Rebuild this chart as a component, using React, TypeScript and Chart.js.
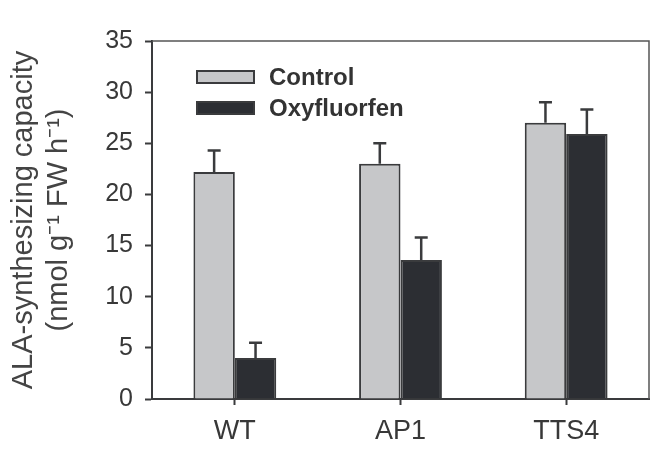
import React, { useEffect, useRef } from "react";
import { Chart, registerables } from "chart.js";

Chart.register(...registerables);

const categories = ["WT", "AP1", "TTS4"];
const controlValues = [22.2, 23.0, 27.0];
const controlErrors = [2.1, 2.0, 2.0];
const oxyfluorfenValues = [4.0, 13.6, 25.9];
const oxyfluorfenErrors = [1.5, 2.2, 2.4];
const seriesLabels = ["Control", "Oxyfluorfen"];
const yTitleLines = ["ALA-synthesizing capacity", "(nmol g\u207B\u00B9 FW h\u207B\u00B9)"];

const FONT = "'Liberation Sans', Arial, Helvetica, sans-serif";
const INK = "#3a3b3d";
const errorSets = [controlErrors, oxyfluorfenErrors];

// Upward-only error bars with a short cap
const errorBarPlugin = {
  id: "errorBars",
  afterDatasetsDraw(chart: any) {
    const { ctx } = chart;
    const y = chart.scales.y;
    ctx.save();
    ctx.strokeStyle = INK;
    ctx.lineWidth = 2.5;
    chart.data.datasets.forEach((ds: any, di: number) => {
      const meta = chart.getDatasetMeta(di);
      meta.data.forEach((bar: any, i: number) => {
        const v = ds.data[i];
        const top = y.getPixelForValue(v + errorSets[di][i]);
        ctx.beginPath();
        ctx.moveTo(bar.x, bar.y);
        ctx.lineTo(bar.x, top);
        ctx.moveTo(bar.x - 6.5, top);
        ctx.lineTo(bar.x + 6.5, top);
        ctx.stroke();
      });
    });
    ctx.restore();
  },
};

// Top and right edges of the plot frame
const framePlugin = {
  id: "frame",
  afterDraw(chart: any) {
    const { ctx, chartArea } = chart;
    ctx.save();
    ctx.strokeStyle = "#555";
    ctx.lineWidth = 1.5;
    ctx.beginPath();
    ctx.moveTo(chartArea.left, chartArea.top);
    ctx.lineTo(chartArea.right, chartArea.top);
    ctx.lineTo(chartArea.right, chartArea.bottom);
    ctx.stroke();
    ctx.restore();
  },
};

// Legend drawn inside the plot area, upper left
const insideLegendPlugin = {
  id: "insideLegend",
  afterDraw(chart: any) {
    const { ctx, chartArea } = chart;
    const boxX = chartArea.left + 45;
    const boxW = 57;
    const boxH = 12;
    const rowY = [chartArea.top + 36, chartArea.top + 67];
    ctx.save();
    ctx.font = `bold 24px ${FONT}`;
    ctx.textBaseline = "middle";
    ctx.textAlign = "left";
    chart.data.datasets.forEach((ds: any, i: number) => {
      const cy = rowY[i];
      ctx.fillStyle = ds.backgroundColor;
      ctx.fillRect(boxX, cy - boxH / 2, boxW, boxH);
      ctx.strokeStyle = INK;
      ctx.lineWidth = 2;
      ctx.strokeRect(boxX, cy - boxH / 2, boxW, boxH);
      ctx.fillStyle = "#333";
      ctx.fillText(ds.label, boxX + boxW + 15, cy + 1);
    });
    ctx.restore();
  },
};

export default function App() {
  const canvasRef = useRef<HTMLCanvasElement | null>(null);

  useEffect(() => {
    if (!canvasRef.current) return;
    const chart = new Chart(canvasRef.current, {
      type: "bar",
      data: {
        labels: categories,
        datasets: [
          {
            label: seriesLabels[0],
            data: controlValues,
            backgroundColor: "#c6c7c9",
            borderColor: INK,
            borderWidth: 2,
            borderSkipped: "bottom",
          },
          {
            label: seriesLabels[1],
            data: oxyfluorfenValues,
            backgroundColor: "#2c2e33",
            borderColor: INK,
            borderWidth: 2,
            borderSkipped: "bottom",
          },
        ],
      },
      options: {
        responsive: false,
        animation: false,
        devicePixelRatio: 1,
        layout: { padding: { left: 0, top: 41, right: 4, bottom: 0 } },
        datasets: {
          bar: { categoryPercentage: 0.5, barPercentage: 1.0 },
        },
        plugins: {
          legend: { display: false },
          tooltip: { enabled: false },
        },
        scales: {
          x: {
            grid: {
              offset: false,
              drawOnChartArea: false,
              drawTicks: true,
              tickLength: 6,
              tickWidth: 2,
              tickColor: INK,
            },
            border: { display: true, color: INK, width: 2 },
            ticks: {
              color: "#383838",
              padding: 10,
              font: { family: FONT, size: 27 },
            },
            afterFit(scale: any) {
              scale.height = 54;
            },
          },
          y: {
            min: 0,
            max: 35,
            grid: {
              drawOnChartArea: false,
              drawTicks: true,
              tickLength: 7,
              tickWidth: 2,
              tickColor: INK,
            },
            border: { display: true, color: INK, width: 2 },
            ticks: {
              stepSize: 5,
              color: "#383838",
              padding: 12,
              font: { family: FONT, size: 25 },
            },
            title: {
              display: true,
              text: yTitleLines,
              color: "#444",
              padding: { top: 6.5, bottom: 0 },
              font: { family: FONT, size: 29, lineHeight: 1.21 },
            },
            afterFit(scale: any) {
              scale.width = 152;
            },
          },
        },
      },
      plugins: [errorBarPlugin, framePlugin, insideLegendPlugin],
    });
    return () => chart.destroy();
  }, []);

  return (
    <div style={{ position: "fixed", left: 0, top: 0, width: 653, height: 453, background: "#fff" }}>
      <canvas ref={canvasRef} width={653} height={453} />
    </div>
  );
}
